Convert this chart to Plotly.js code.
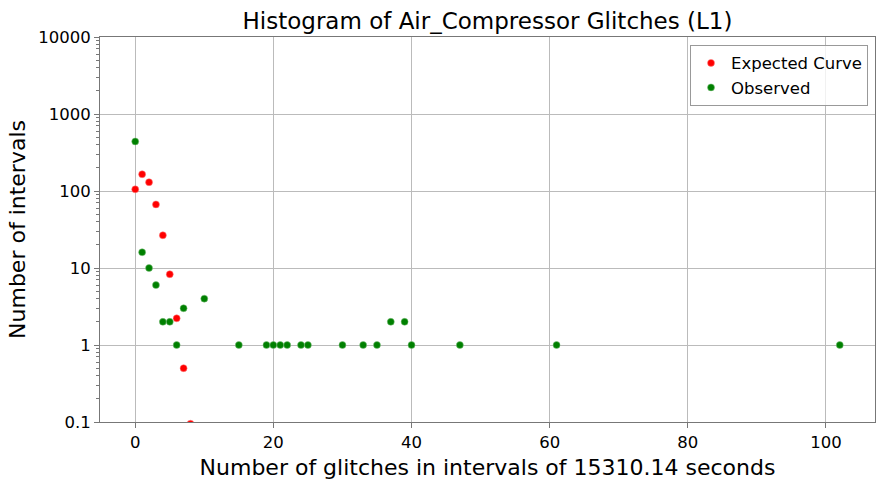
<!DOCTYPE html>
<html>
<head>
<meta charset="utf-8">
<script src="https://cdn.plot.ly/plotly-3.0.1.min.js"></script>
<style>
  body { margin: 0; background: #fff; }
  #plot { width: 885px; height: 486px; }
</style>
</head>
<body>
<div id="plot"></div>
<script>
// expected curve (poisson-like) per number of glitches
const expectedX = [0, 1, 2, 3, 4, 5, 6, 7, 8];
const expectedY = [105, 165, 130, 67, 26.6, 8.3, 2.22, 0.5, 0.095];

// observed counts
const observedX = [0, 1, 2, 3, 4, 5, 6, 7, 10, 15, 19, 20, 21, 22, 24, 25, 30, 33, 35, 37, 39, 40, 47, 61, 102];
const observedY = [440, 16, 10, 6, 2, 2, 1, 3, 4, 1, 1, 1, 1, 1, 1, 1, 1, 1, 1, 2, 2, 1, 1, 1, 1];

const yTickVals = [0.1, 1, 10, 100, 1000, 10000];
const yTickText = ['0.1', '1', '10', '100', '1000', '10000'];

const font = 'DejaVu Sans, sans-serif';

const traces = [
    {
        x: expectedX,
        y: expectedY,
        mode: 'markers',
        type: 'scatter',
        name: 'Expected Curve',
        marker: { color: 'red', size: 7, line: { color: '#ff8080', width: 0.5 } },
        cliponaxis: true
    },
    {
        x: observedX,
        y: observedY,
        mode: 'markers',
        type: 'scatter',
        name: 'Observed',
        marker: { color: 'green', size: 7, line: { color: '#80c080', width: 0.5 } },
        cliponaxis: true
    }
];

const layout = {
    width: 885,
    height: 486,
    margin: { l: 100, r: 10, t: 37, b: 64 },
    paper_bgcolor: '#fff',
    plot_bgcolor: '#fff',
    font: { family: font, color: '#000', size: 16.5 },
    title: {
        text: 'Histogram of Air_Compressor Glitches (L1)',
        font: { size: 23, family: font },
        x: 0.5, xref: 'paper', xanchor: 'center',
        y: 0.957, yanchor: 'middle'
    },
    xaxis: {
        title: { text: 'Number of glitches in intervals of 15310.14 seconds', font: { size: 22 }, standoff: 8 },
        range: [-5.1, 107.1],
        dtick: 20,
        tick0: 0,
        ticks: 'outside',
        ticklen: 5,
        tickcolor: '#777',
        showline: true,
        linecolor: '#777',
        mirror: true,
        showgrid: true,
        gridcolor: '#bbb',
        zeroline: false,
        tickfont: { size: 16.5 }
    },
    yaxis: {
        title: { text: 'Number of intervals', font: { size: 22 }, standoff: 6 },
        type: 'log',
        range: [-1, 4],
        tickvals: yTickVals,
        ticktext: yTickText,
        ticks: 'outside',
        ticklen: 5,
        tickcolor: '#777',
        minor: { ticks: 'outside', ticklen: 3, tickcolor: '#777', dtick: 'D1', showgrid: false },
        showline: true,
        linecolor: '#777',
        mirror: true,
        showgrid: true,
        gridcolor: '#bbb',
        zeroline: false,
        tickfont: { size: 16.5 }
    },
    legend: {
        x: 0.991, xanchor: 'right',
        y: 0.98, yanchor: 'top',
        bgcolor: 'rgba(255,255,255,0.8)',
        bordercolor: '#999',
        borderwidth: 1,
        font: { size: 16.5 },
        tracegroupgap: 0
    },
    showlegend: true
};

Plotly.newPlot('plot', traces, layout, { displayModeBar: false, staticPlot: true });
</script>
</body>
</html>
